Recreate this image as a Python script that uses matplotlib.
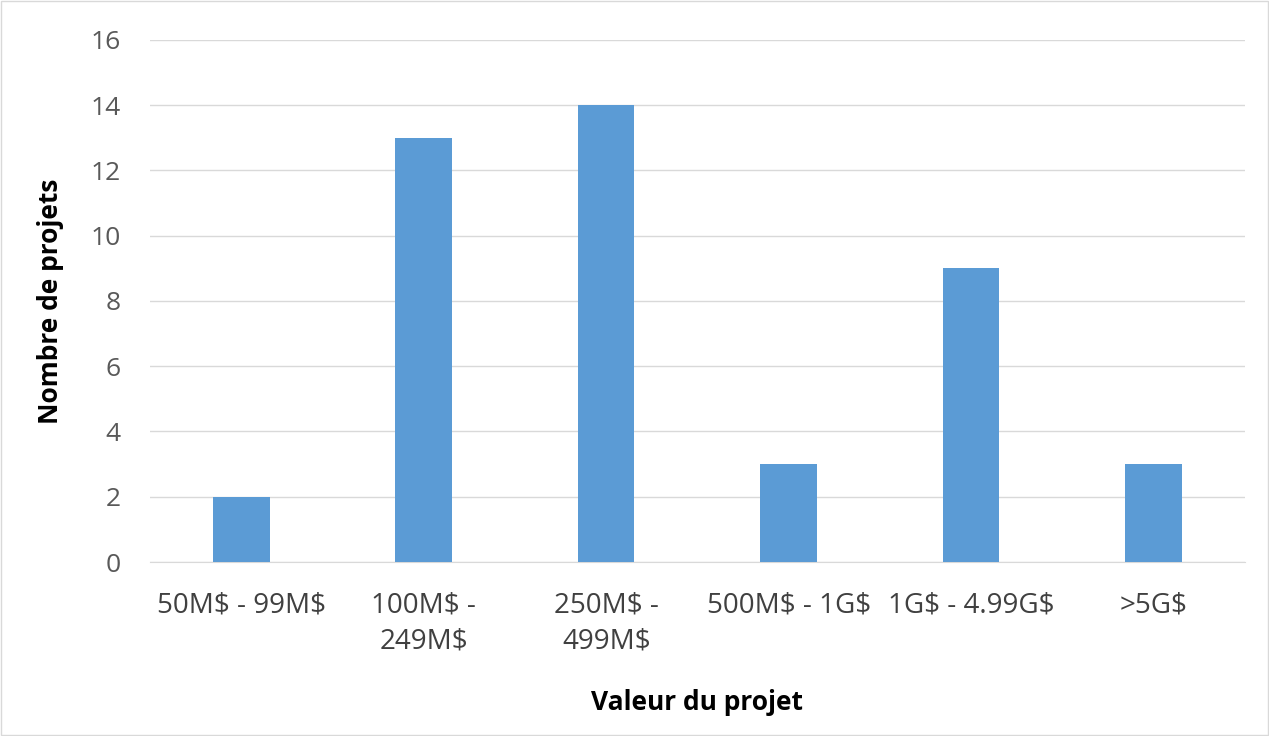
import matplotlib.pyplot as plt
from matplotlib.patches import Rectangle

categories = ["50M$ - 99M$", "100M$ -\n249M$", "250M$ -\n499M$", "500M$ - 1G$", "1G$ - 4.99G$", ">5G$"]
projets = [2, 13, 14, 3, 9, 3]
yticks = [0, 2, 4, 6, 8, 10, 12, 14, 16]

plt.rcParams['font.family'] = ['Open Sans', 'DejaVu Sans']

fig = plt.figure(figsize=(12.69, 7.36), dpi=100)
ax = fig.add_axes([0.1182, 0.2364, 0.8628, 0.7093])

x = range(len(categories))
ax.bar(x, projets, width=0.31, color='#5B9BD5', zorder=3)

ax.set_xlim(-0.5, len(categories) - 0.5)
ax.set_ylim(0, 16)
ax.set_yticks(yticks)
ax.set_xticks(list(x))
ax.set_xticklabels([c.replace('$', r'\$') for c in categories], fontsize=20, color='#404040', linespacing=1.4)
ax.tick_params(axis='y', labelsize=19, labelcolor='#595959', length=0, pad=21)
ax.tick_params(axis='x', length=0, pad=21)
ax.grid(axis='y', color='#D9D9D9', linewidth=1, zorder=0)
for s in ['top', 'right', 'left']:
    ax.spines[s].set_visible(False)
ax.spines['bottom'].set_color('#D9D9D9')

ax.set_ylabel("Nombre de projets", fontsize=19, fontweight='bold', color='black', labelpad=19)
ax.set_xlabel("Valeur du projet", fontsize=19, fontweight='bold', color='black', labelpad=24)

fig.patches.append(Rectangle((0.001, 0.001), 0.998, 0.998, transform=fig.transFigure,
                             fill=False, edgecolor='#D9D9D9', linewidth=1))

fig.savefig("out.png", dpi=100)
